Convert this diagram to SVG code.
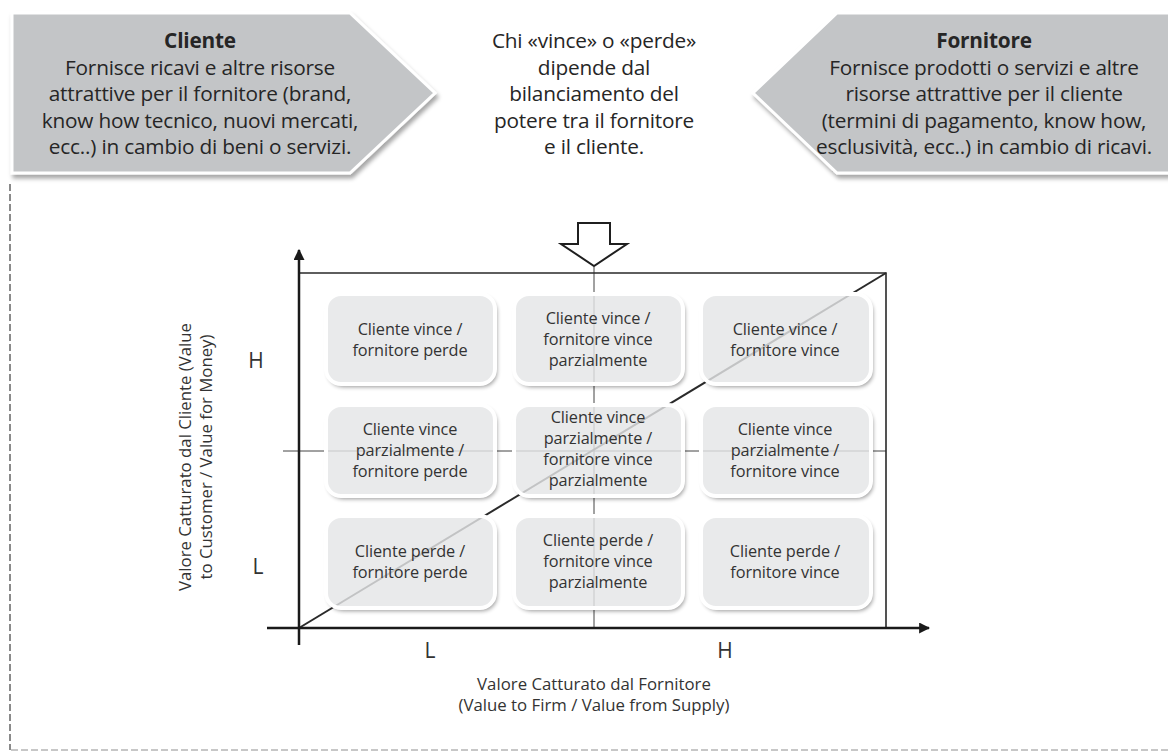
<svg xmlns="http://www.w3.org/2000/svg" width="1168" height="751" viewBox="0 0 1168 751">
  <style>
    .hdr { font-family: "Open Sans", "Noto Sans", sans-serif; font-size: 20.8px; fill: #262626; text-anchor: middle; letter-spacing: -0.2px; }
    .hdr .b { font-weight: 700; }
    .cell { font-family: "Open Sans", "Noto Sans", sans-serif; font-size: 16.3px; fill: #333; text-anchor: middle; letter-spacing: -0.1px; }
    .axis-t { font-family: "Open Sans", "Noto Sans", sans-serif; font-size: 16.8px; fill: #333; text-anchor: middle; letter-spacing: 0px; }
    .hl { font-family: "Open Sans", "Noto Sans", sans-serif; font-size: 21px; fill: #333; text-anchor: middle; }
    .box { fill: #e4e5e7; fill-opacity: 0.82; stroke: #ffffff; stroke-width: 4; }
    .box-sh { fill: #ffffff; filter: url(#ringShadow); }
    .penta { fill: #c3c5c7; stroke: #ffffff; stroke-width: 3; filter: url(#hdrShadow); }
  </style>
  <defs>
    <filter id="hdrShadow" x="-5%" y="-10%" width="115%" height="130%">
      <feDropShadow dx="2" dy="4" stdDeviation="2" flood-color="#000" flood-opacity="0.35"/>
    </filter>
    <!-- shadow that only shows outside the shape -->
    <filter id="ringShadow" x="-10%" y="-10%" width="125%" height="130%">
      <feGaussianBlur in="SourceAlpha" stdDeviation="2"/>
      <feOffset dx="1.5" dy="2.5" result="blur"/>
      <feComponentTransfer in="blur" result="soft">
        <feFuncA type="linear" slope="0.4"/>
      </feComponentTransfer>
      <feComposite in="soft" in2="SourceAlpha" operator="out"/>
    </filter>
    <marker id="arrowHead" viewBox="0 0 10 10" refX="9" refY="5" markerWidth="4.4" markerHeight="4.4" orient="auto" markerUnits="strokeWidth">
      <path d="M0,0 L10,5 L0,10 z" fill="#1a1a1a"/>
    </marker>
  </defs>

  <rect width="1168" height="751" fill="#ffffff"/>

  <!-- dashed outline of the lower panel -->
  <g id="panel-border" fill="none">
    <line x1="10" y1="184" x2="10" y2="750" stroke="#8a8a8a" stroke-width="2" stroke-dasharray="7,3"/>
    <line x1="11" y1="750" x2="1168" y2="750" stroke="#b5b5b5" stroke-width="1.5" stroke-dasharray="7,3"/>
  </g>

  <!-- header: client side -->
  <g id="cliente">
    <polygon class="penta" points="12,13 350,13 435,93 350,173 12,173"/>
    <text class="hdr" x="200" y="48"><tspan class="b">Cliente</tspan></text>
    <text class="hdr" x="200" y="75">Fornisce ricavi e altre risorse</text>
    <text class="hdr" x="200" y="101">attrattive per il fornitore (brand,</text>
    <text class="hdr" x="200" y="128">know how tecnico, nuovi mercati,</text>
    <text class="hdr" x="200" y="154">ecc..) in cambio di beni o servizi.</text>
  </g>

  <!-- header: central note -->
  <g id="bilanciamento">
    <text class="hdr" x="594" y="48">Chi «vince» o «perde»</text>
    <text class="hdr" x="594" y="75">dipende dal</text>
    <text class="hdr" x="594" y="101">bilanciamento del</text>
    <text class="hdr" x="594" y="128">potere tra il fornitore</text>
    <text class="hdr" x="594" y="154">e il cliente.</text>
  </g>

  <!-- header: supplier side -->
  <g id="fornitore">
    <polygon class="penta" points="1175,13 837,13 753,93 837,173 1175,173"/>
    <text class="hdr" x="984" y="48"><tspan class="b">Fornitore</tspan></text>
    <text class="hdr" x="984" y="75">Fornisce prodotti o servizi e altre</text>
    <text class="hdr" x="984" y="101">risorse attrattive per il cliente</text>
    <text class="hdr" x="984" y="128">(termini di pagamento, know how,</text>
    <text class="hdr" x="984" y="154">esclusività, ecc..) in cambio di ricavi.</text>
  </g>

  <!-- hollow arrow pointing into the matrix -->
  <g id="freccia">
    <polygon points="578,223 610,223 610,244 627,244 594,266 561,244 578,244" fill="#ffffff" stroke="#1f1f1f" stroke-width="2" stroke-linejoin="miter"/>
  </g>

  <!-- axes, frame, mid-lines and diagonal -->
  <g id="connectors" fill="none">
    <line x1="594" y1="266" x2="594" y2="628" stroke="#444" stroke-width="1"/>
    <line x1="283" y1="451" x2="886" y2="451" stroke="#444" stroke-width="1"/>
    <line x1="299" y1="628" x2="886" y2="273" stroke="#2a2a2a" stroke-width="2"/>
    <polyline points="299,273 886,273 886,628" stroke="#2a2a2a" stroke-width="1.6"/>
    <line x1="299" y1="645" x2="299" y2="250" stroke="#1a1a1a" stroke-width="2.5" marker-end="url(#arrowHead)"/>
    <line x1="267" y1="628" x2="929" y2="628" stroke="#1a1a1a" stroke-width="2.5" marker-end="url(#arrowHead)"/>
  </g>

  <!-- matrix cells -->
  <g id="cell-shadows">
    <rect class="box-sh" x="326" y="294" width="169" height="90" rx="15"/>
    <rect class="box-sh" x="514" y="294" width="169" height="90" rx="15"/>
    <rect class="box-sh" x="701" y="294" width="170" height="90" rx="15"/>
    <rect class="box-sh" x="326" y="405" width="169" height="91" rx="15"/>
    <rect class="box-sh" x="514" y="405" width="169" height="91" rx="15"/>
    <rect class="box-sh" x="701" y="405" width="170" height="91" rx="15"/>
    <rect class="box-sh" x="326" y="516" width="169" height="92" rx="15"/>
    <rect class="box-sh" x="514" y="516" width="169" height="92" rx="15"/>
    <rect class="box-sh" x="701" y="516" width="170" height="92" rx="15"/>
  </g>

  <g id="cella-HL">
    <rect class="box" x="326" y="294" width="169" height="90" rx="15"/>
    <text class="cell" x="410" y="335">Cliente vince /</text>
    <text class="cell" x="410" y="356">fornitore perde</text>
  </g>
  <g id="cella-HM">
    <rect class="box" x="514" y="294" width="169" height="90" rx="15"/>
    <text class="cell" x="598" y="324">Cliente vince /</text>
    <text class="cell" x="598" y="345">fornitore vince</text>
    <text class="cell" x="598" y="366">parzialmente</text>
  </g>
  <g id="cella-HH">
    <rect class="box" x="701" y="294" width="170" height="90" rx="15"/>
    <text class="cell" x="785" y="335">Cliente vince /</text>
    <text class="cell" x="785" y="356">fornitore vince</text>
  </g>

  <g id="cella-ML">
    <rect class="box" x="326" y="405" width="169" height="91" rx="15"/>
    <text class="cell" x="410" y="435">Cliente vince</text>
    <text class="cell" x="410" y="456">parzialmente  /</text>
    <text class="cell" x="410" y="477">fornitore perde</text>
  </g>
  <g id="cella-MM">
    <rect class="box" x="514" y="405" width="169" height="91" rx="15"/>
    <text class="cell" x="598" y="423">Cliente vince</text>
    <text class="cell" x="598" y="444">parzialmente  /</text>
    <text class="cell" x="598" y="465">fornitore vince</text>
    <text class="cell" x="598" y="486">parzialmente</text>
  </g>
  <g id="cella-MH">
    <rect class="box" x="701" y="405" width="170" height="91" rx="15"/>
    <text class="cell" x="785" y="435">Cliente vince</text>
    <text class="cell" x="785" y="456">parzialmente  /</text>
    <text class="cell" x="785" y="477">fornitore vince</text>
  </g>

  <g id="cella-LL">
    <rect class="box" x="326" y="516" width="169" height="92" rx="15"/>
    <text class="cell" x="410" y="557">Cliente perde /</text>
    <text class="cell" x="410" y="578">fornitore perde</text>
  </g>
  <g id="cella-LM">
    <rect class="box" x="514" y="516" width="169" height="92" rx="15"/>
    <text class="cell" x="598" y="546">Cliente perde /</text>
    <text class="cell" x="598" y="567">fornitore vince</text>
    <text class="cell" x="598" y="588">parzialmente</text>
  </g>
  <g id="cella-LH">
    <rect class="box" x="701" y="516" width="170" height="92" rx="15"/>
    <text class="cell" x="785" y="557">Cliente perde /</text>
    <text class="cell" x="785" y="578">fornitore vince</text>
  </g>

  <!-- axis labels -->
  <g id="assi-etichette">
    <text class="hl" x="256" y="368">H</text>
    <text class="hl" x="258" y="574">L</text>
    <text class="hl" x="430" y="658">L</text>
    <text class="hl" x="725" y="658">H</text>
    <text class="axis-t" x="594" y="690">Valore Catturato dal Fornitore</text>
    <text class="axis-t" x="594" y="711">(Value to Firm / Value from Supply)</text>
    <g transform="rotate(-90)">
      <text class="axis-t" x="-457" y="191">Valore Catturato dal Cliente (Value</text>
      <text class="axis-t" x="-457" y="212">to Customer / Value for Money)</text>
    </g>
  </g>
</svg>
